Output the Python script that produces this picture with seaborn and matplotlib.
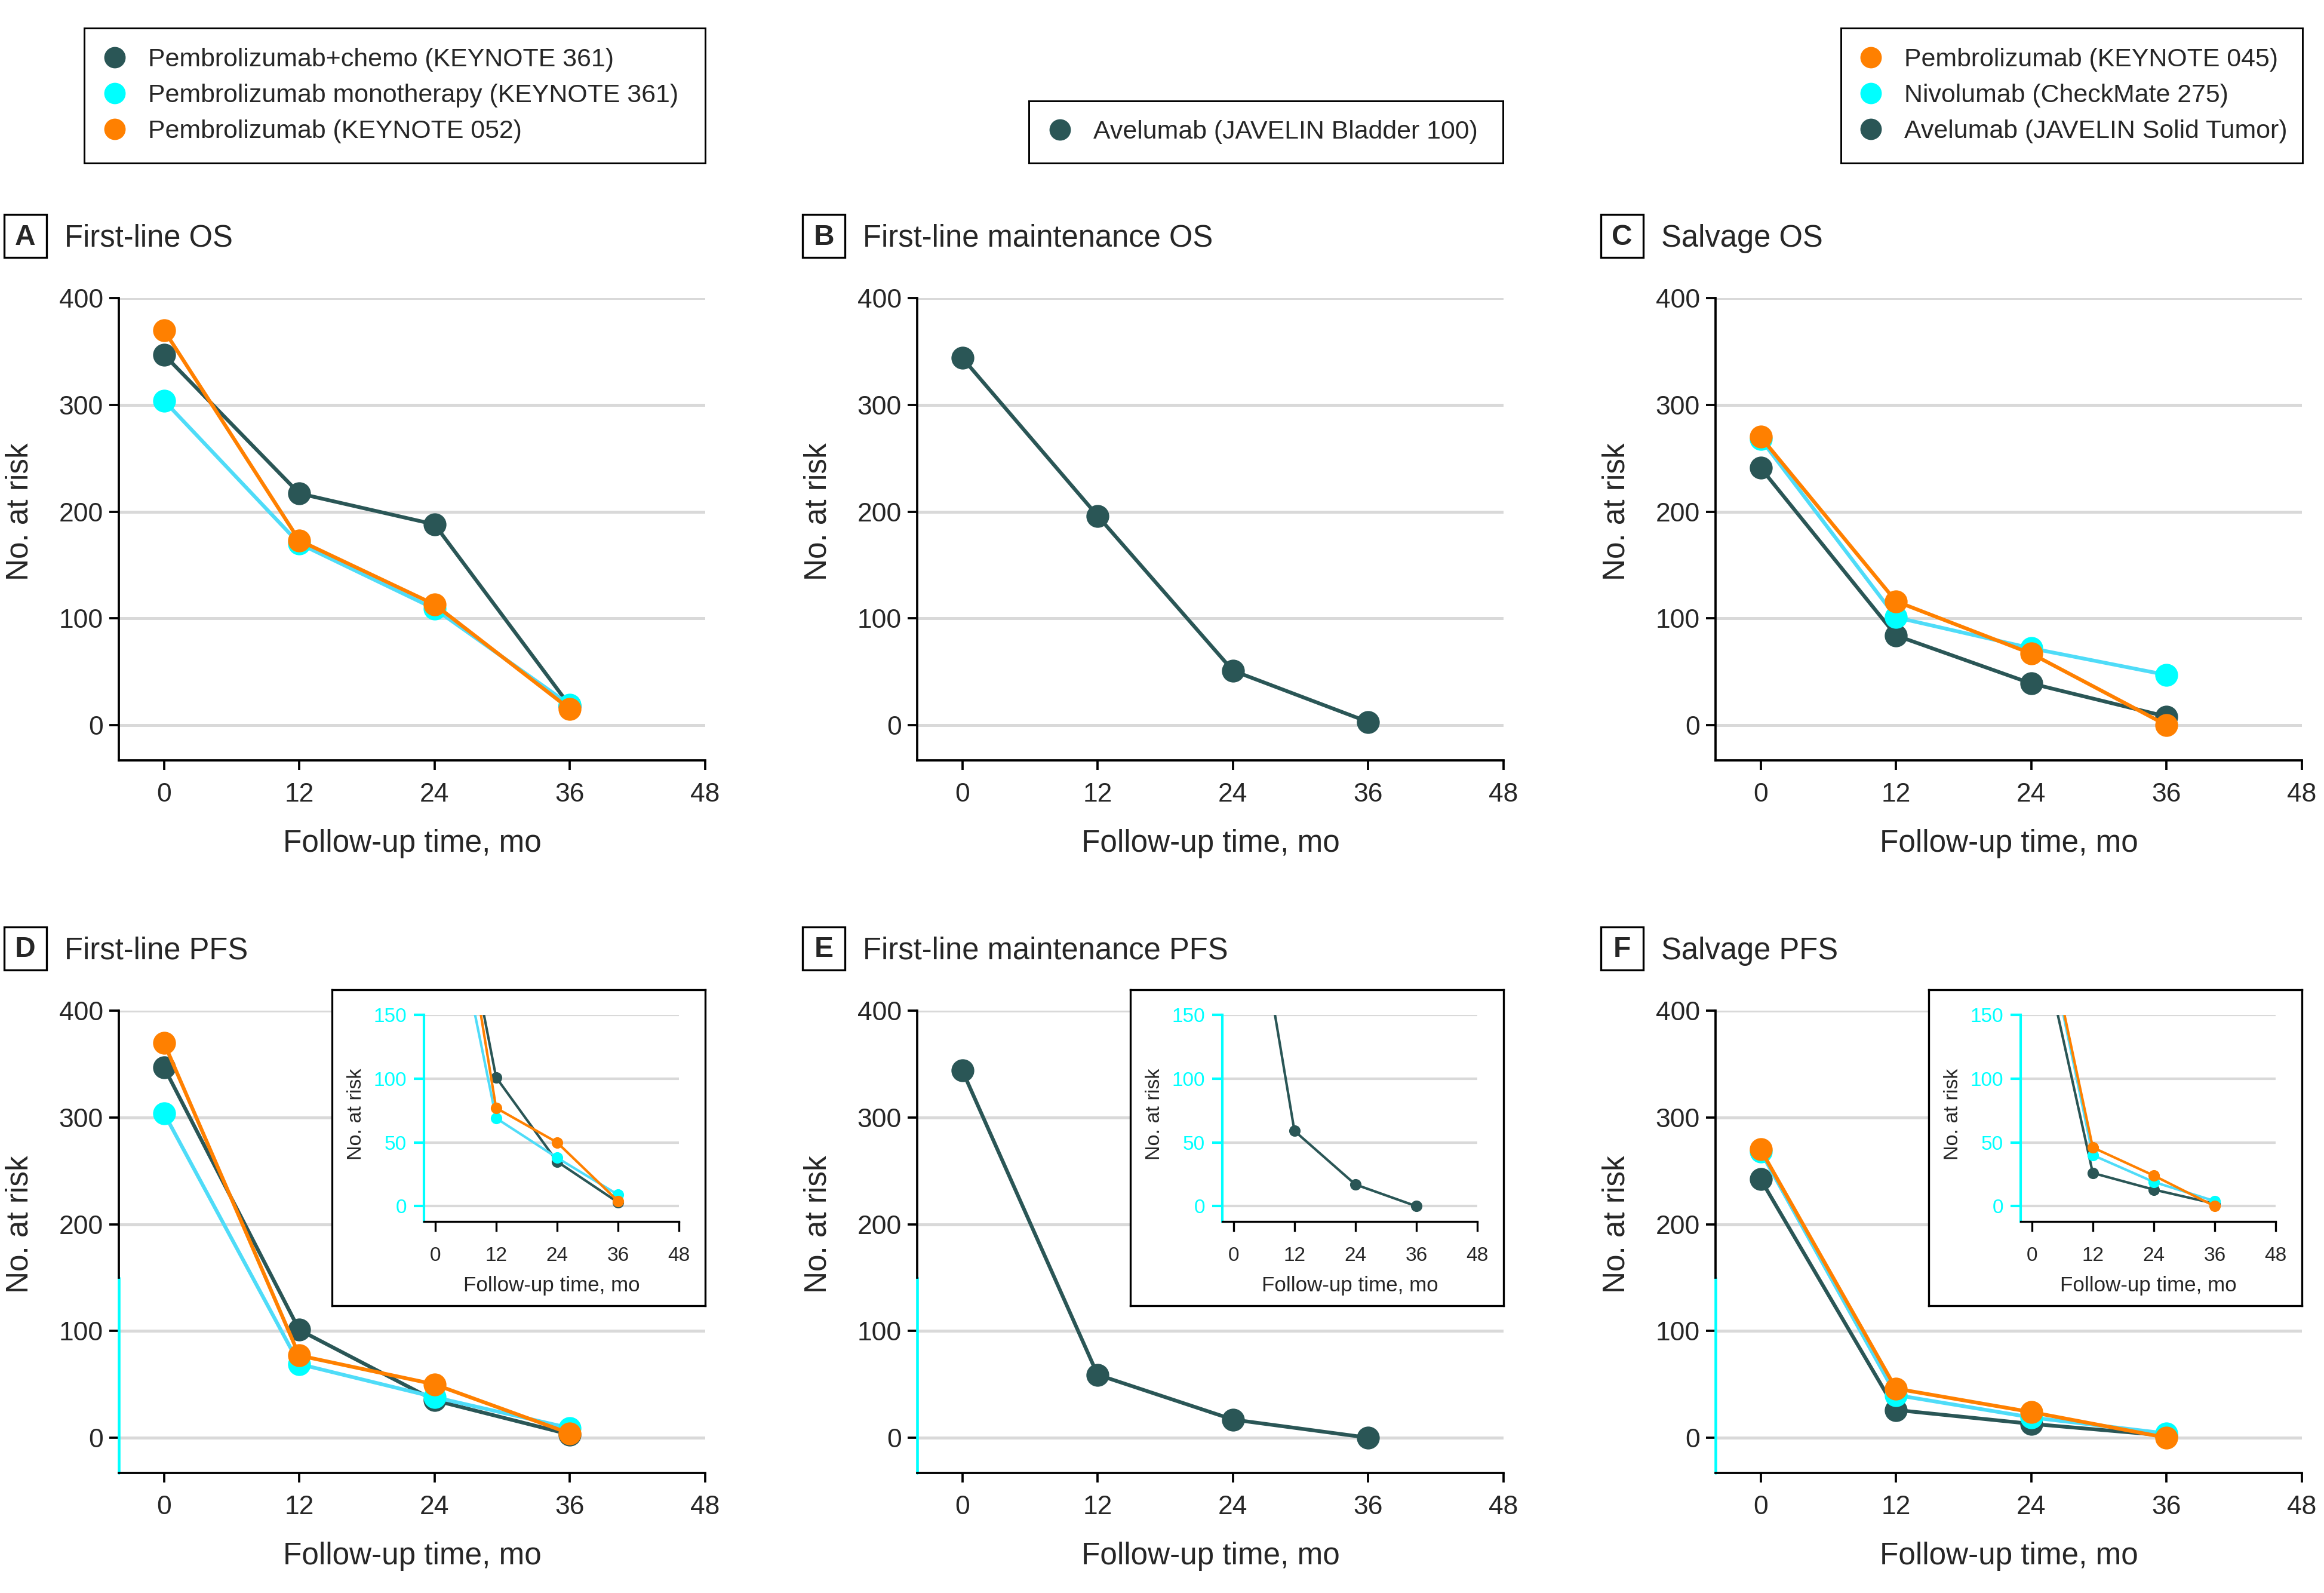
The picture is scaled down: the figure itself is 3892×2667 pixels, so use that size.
import pandas as pd
import seaborn as sns
import matplotlib.pyplot as plt
from matplotlib.lines import Line2D
from matplotlib.patches import Rectangle

sns.set_style("ticks")
plt.rcParams['font.family'] = ['Liberation Sans', 'DejaVu Sans']

# follow-up months
months = [0, 12, 24, 36]
x_ticks = [0, 12, 24, 36, 48]
y_ticks = [0, 100, 200, 300, 400]
inset_y_ticks = [0, 50, 100, 150]

# A  first-line OS
a_pembro_chemo = [347, 217, 188, 18]
a_pembro_mono = [304, 170, 109, 19]
a_pembro_052 = [370, 173, 113, 15]
# B  first-line maintenance OS
b_avelumab = [344, 196, 51, 3]
# C  salvage OS
c_pembro_045 = [270, 116, 67, 0]
c_nivolumab = [268, 101, 72, 47]
c_avelumab = [241, 84, 39, 8]
# D  first-line PFS
d_pembro_chemo = [347, 101, 35, 3]
d_pembro_mono = [304, 69, 38, 9]
d_pembro_052 = [370, 77, 50, 4]
# E  first-line maintenance PFS
e_avelumab = [344, 59, 17, 0]
# F  salvage PFS
f_pembro_045 = [270, 46, 24, 0]
f_nivolumab = [268, 40, 19, 4]
f_avelumab = [242, 26, 13, 2]

legend_first_line = ['Pembrolizumab+chemo (KEYNOTE 361)',
                     'Pembrolizumab monotherapy (KEYNOTE 361)',
                     'Pembrolizumab (KEYNOTE 052)']
legend_maint = ['Avelumab (JAVELIN Bladder 100)']
legend_salvage = ['Pembrolizumab (KEYNOTE 045)',
                  'Nivolumab (CheckMate 275)',
                  'Avelumab (JAVELIN Solid Tumor)']

DARK = '#2a5656'
CYAN = '#00ffff'
CYAN_LINE = '#4fdcf8'
ORANGE = '#ff8000'
GRID = '#d9d9d9'

W, H = 3892, 2667
fig = plt.figure(figsize=(W / 300, H / 300), dpi=300)


def rect(l, t, r, b):
    return [l / W, 1 - b / H, (r - l) / W, (b - t) / H]


def draw_series(ax, series, lw, ms):
    for vals, lc, mc in series:
        sns.lineplot(x=months, y=vals, ax=ax, color=lc, lw=lw, marker='o',
                     markersize=ms, markerfacecolor=mc, markeredgewidth=0,
                     errorbar=None, legend=False)


def panel(letter, title, left, top, series, inset):
    right = left + 982
    bottom = top + 774
    ax = fig.add_axes(rect(left, top, right, bottom))
    draw_series(ax, series, 1.5, 9.2)
    ax.set_xlim(-4, 48)
    ax.set_ylim(-33, 400)
    ax.set_xticks(x_ticks)
    ax.set_yticks(y_ticks)
    ax.yaxis.grid(True, color=GRID, lw=1.2)
    ax.set_axisbelow(True)
    sns.despine(ax=ax)
    for s in ['left', 'bottom']:
        ax.spines[s].set_color('black')
        ax.spines[s].set_linewidth(0.9)
    ax.tick_params(direction='out', length=3.9, width=0.9, color='black',
                   labelsize=10.7)
    ax.tick_params(axis='x', pad=5.0)
    ax.tick_params(axis='y', pad=2.4)
    ax.set_xlabel('Follow-up time, mo', fontsize=12.3)
    ax.set_ylabel('No. at risk', fontsize=12.3)
    ax.xaxis.set_label_coords(0.5, -0.18)
    ax.xaxis.label.set_va('center')
    ax.yaxis.set_label_coords(-0.169, 0.538)
    ax.yaxis.label.set_va('center')

    # letter box and title
    bx = left - 192
    fig.add_artist(Rectangle((bx / W, 1 - (top - 68) / H), 71 / W, 72 / H,
                             transform=fig.transFigure, fill=False,
                             ec='black', lw=0.8))
    fig.text((bx + 35.5) / W, 1 - (top - 102) / H, letter, ha='center',
             va='center', fontsize=11.5, fontweight='bold')
    fig.text((bx + 101) / W, 1 - (top - 100) / H, title, ha='left',
             va='center', fontsize=12.2)

    if not inset:
        return
    # zoom marker on the main y axis
    ax.spines['left'].set_bounds(150, 400)
    ax.axvline(-4, ymin=0, ymax=(150 + 33) / 433, color=CYAN, lw=1.1,
               clip_on=False)

    frame = fig.add_axes(rect(right - 625, top - 35, right, top + 494))
    frame.set_xticks([])
    frame.set_yticks([])
    for s in frame.spines.values():
        s.set_visible(True)
        s.set_linewidth(0.8)
        s.set_color('black')
    frame.set_zorder(2)

    ai = fig.add_axes(rect(right - 471, top + 7, right - 44, top + 353))
    ai.set_zorder(3)
    draw_series(ai, series, 1.0, 4.6)
    ai.set_xlim(-2.2, 48)
    ai.set_ylim(-12, 150)
    ai.set_xticks(x_ticks)
    ai.set_yticks(inset_y_ticks)
    ai.yaxis.grid(True, color=GRID, lw=1.0)
    ai.set_axisbelow(True)
    sns.despine(ax=ai)
    ai.spines['left'].set_color(CYAN)
    ai.spines['left'].set_linewidth(1.0)
    ai.spines['bottom'].set_color('black')
    ai.spines['bottom'].set_linewidth(0.8)
    ai.tick_params(axis='y', direction='out', length=4, width=1.0,
                   color=CYAN, labelcolor=CYAN, labelsize=8.0, pad=3)
    ai.tick_params(axis='x', direction='out', length=4, width=0.8,
                   color='black', labelsize=8.0, pad=6)
    ai.set_xlabel('Follow-up time, mo', fontsize=8.4)
    ai.set_ylabel('No. at risk', fontsize=8.2)
    ai.xaxis.set_label_coords(0.5, -0.31)
    ai.xaxis.label.set_va('center')
    ai.yaxis.set_label_coords(-0.265, 0.52)
    ai.yaxis.label.set_va('center')


def legend_box(left, top, right, bottom, labels, colors, marker_x):
    bx = fig.add_axes(rect(left, top, right, bottom))
    bx.set_xticks([])
    bx.set_yticks([])
    for s in bx.spines.values():
        s.set_visible(True)
        s.set_linewidth(0.7)
        s.set_color('black')
    handles = [Line2D([], [], ls='', marker='o', markersize=8.6,
                      markerfacecolor=c, markeredgewidth=0) for c in colors]
    fs = 10.3
    fs_px = fs * 300 / 72
    anchor = (marker_x - fs_px / 2 - left) / (right - left)
    bx.legend(handles, labels, loc='center left', bbox_to_anchor=(anchor, 0.5),
              frameon=False, fontsize=fs, handlelength=1.0,
              handletextpad=0.8, borderaxespad=0, borderpad=0,
              labelspacing=0.46)


series_a = [(a_pembro_chemo, DARK, DARK), (a_pembro_mono, CYAN_LINE, CYAN),
            (a_pembro_052, ORANGE, ORANGE)]
series_b = [(b_avelumab, DARK, DARK)]
series_c = [(c_avelumab, DARK, DARK), (c_nivolumab, CYAN_LINE, CYAN),
            (c_pembro_045, ORANGE, ORANGE)]
series_d = [(d_pembro_chemo, DARK, DARK), (d_pembro_mono, CYAN_LINE, CYAN),
            (d_pembro_052, ORANGE, ORANGE)]
series_e = [(e_avelumab, DARK, DARK)]
series_f = [(f_avelumab, DARK, DARK), (f_nivolumab, CYAN_LINE, CYAN),
            (f_pembro_045, ORANGE, ORANGE)]

panel('A', 'First-line OS', 199, 499, series_a, False)
panel('B', 'First-line maintenance OS', 1536, 499, series_b, False)
panel('C', 'Salvage OS', 2873, 499, series_c, False)
panel('D', 'First-line PFS', 199, 1692, series_d, True)
panel('E', 'First-line maintenance PFS', 1536, 1692, series_e, True)
panel('F', 'Salvage PFS', 2873, 1692, series_f, True)

legend_box(141, 47, 1181, 273, legend_first_line, [DARK, CYAN, ORANGE], 192)
legend_box(1723, 169, 2517, 273, legend_maint, [DARK], 1775)
legend_box(3083, 47, 3856, 273, legend_salvage, [ORANGE, CYAN, DARK], 3133)

fig.savefig('out.png', dpi=300)
